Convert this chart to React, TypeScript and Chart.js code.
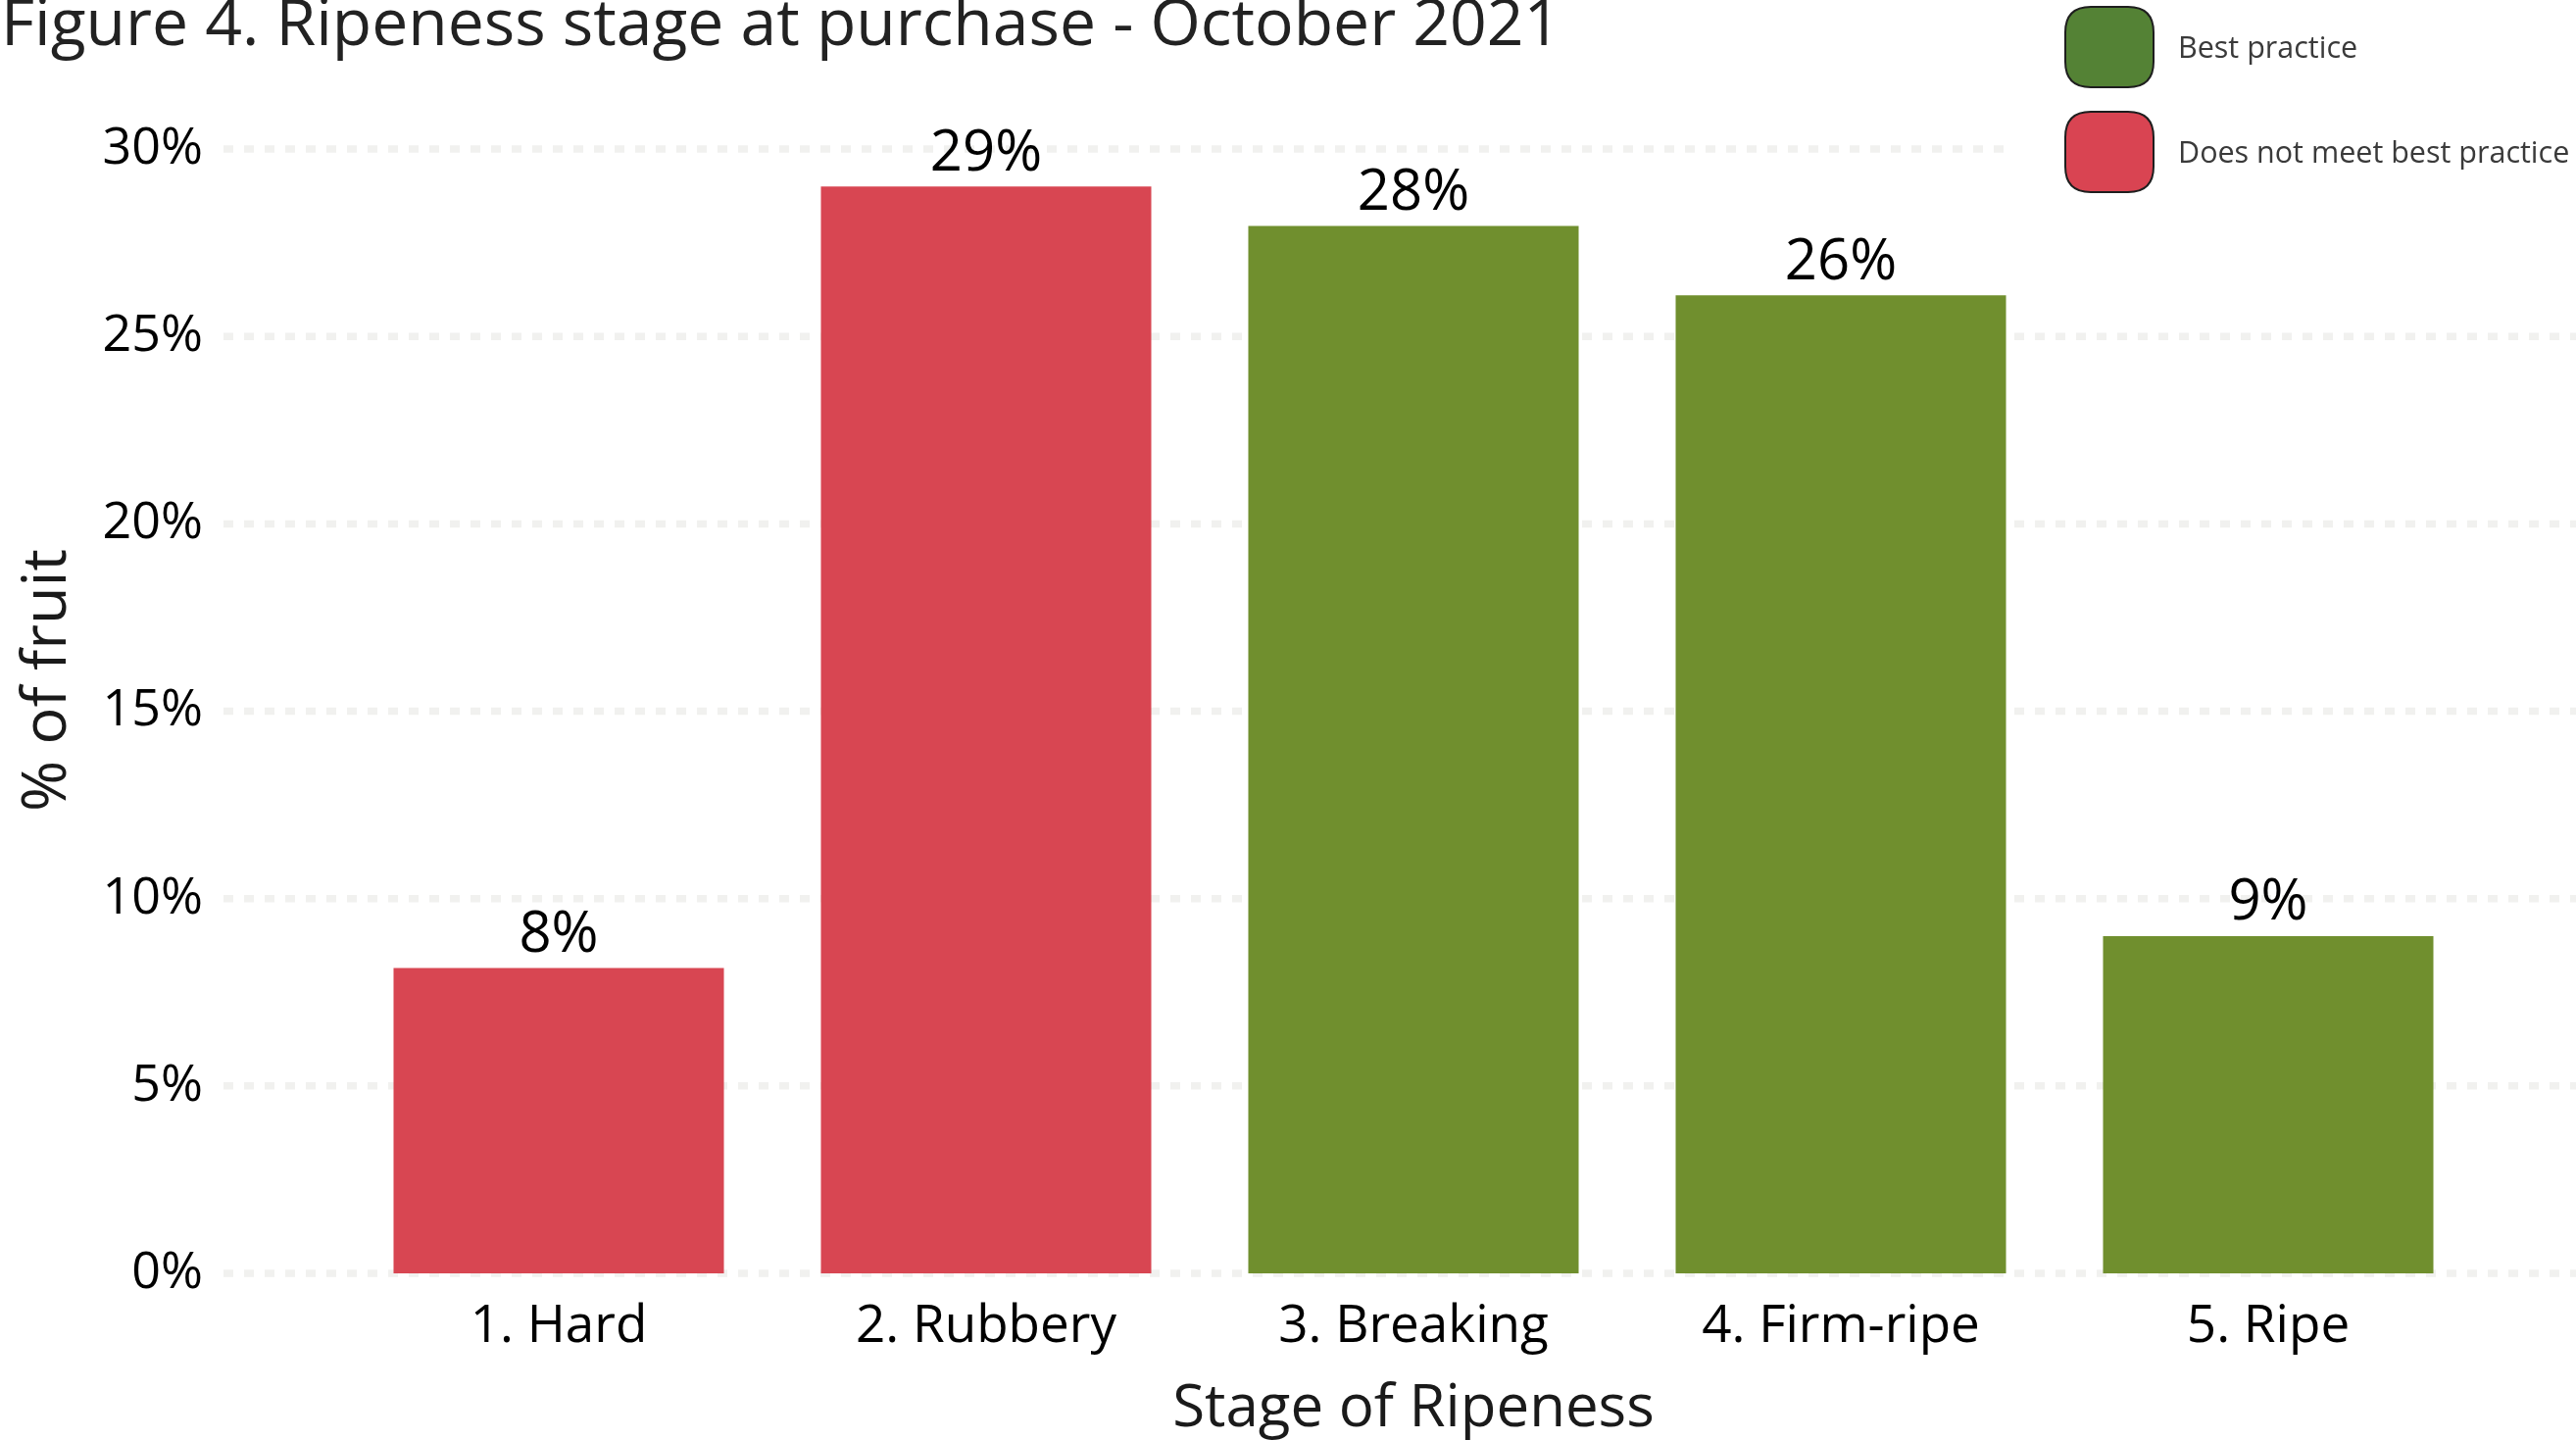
import React, { useEffect, useRef } from 'react';
import { Chart, registerables } from 'chart.js';

Chart.register(...registerables);

// ---------- data ----------
const categories = ['1. Hard', '2. Rubbery', '3. Breaking', '4. Firm-ripe', '5. Ripe'];
const percentValues = [8.15, 29.0, 27.95, 26.1, 9.0];
const practiceGroup = ['not', 'not', 'best', 'best', 'best'];
const yTickValues = [0, 5, 10, 15, 20, 25, 30];
const legendLabels = ['Best practice', 'Does not meet best practice'];
const chartTitle = 'Figure 4. Ripeness stage at purchase - October 2021';
const xAxisTitle = 'Stage of Ripeness';
const yAxisTitle = '% of fruit';

// ---------- style ----------
const FONT = "'Open Sans', 'Noto Sans', sans-serif";
const BAR_RED = '#D84652';
const BAR_GREEN = '#708F2E';
const LEGEND_GREEN = '#548235';
const LEGEND_RED = '#D94452';
const GRID_COLOR = '#f1f1ef';
const W = 2628;
const H = 1469;

const gridPlugin = {
  id: 'dashedGrid',
  beforeDatasetsDraw(chart: any) {
    const ys = chart.scales.y;
    const ctx = chart.ctx;
    ctx.save();
    ctx.strokeStyle = GRID_COLOR;
    ctx.lineWidth = 7.5;
    ctx.setLineDash([10, 11]);
    for (const t of ys.ticks) {
      const y = ys.getPixelForValue(t.value);
      ctx.beginPath();
      ctx.moveTo(228, y);
      ctx.lineTo(chart.width, y);
      ctx.stroke();
    }
    ctx.restore();
  },
};

const valueLabelPlugin = {
  id: 'valueLabels',
  afterDatasetsDraw(chart: any) {
    const ctx = chart.ctx;
    const meta = chart.getDatasetMeta(0);
    const data = chart.data.datasets[0].data as number[];
    ctx.save();
    ctx.font = `58px ${FONT}`;
    ctx.fillStyle = '#000';
    ctx.textAlign = 'center';
    ctx.textBaseline = 'alphabetic';
    meta.data.forEach((bar: any, i: number) => {
      ctx.fillText(`${Math.round(data[i])}%`, bar.x, bar.y - 16.5);
    });
    ctx.restore();
  },
};

function roundedRect(ctx: CanvasRenderingContext2D, x: number, y: number, w: number, h: number, r: number) {
  ctx.beginPath();
  ctx.moveTo(x + r, y);
  ctx.lineTo(x + w - r, y);
  ctx.quadraticCurveTo(x + w, y, x + w, y + r);
  ctx.lineTo(x + w, y + h - r);
  ctx.quadraticCurveTo(x + w, y + h, x + w - r, y + h);
  ctx.lineTo(x + r, y + h);
  ctx.quadraticCurveTo(x, y + h, x, y + h - r);
  ctx.lineTo(x, y + r);
  ctx.quadraticCurveTo(x, y, x + r, y);
  ctx.closePath();
}

const decorPlugin = {
  id: 'decor',
  afterDraw(chart: any) {
    const ctx = chart.ctx as CanvasRenderingContext2D;
    ctx.save();
    // title
    ctx.font = `66px ${FONT}`;
    ctx.fillStyle = '#222';
    ctx.textAlign = 'left';
    ctx.textBaseline = 'alphabetic';
    ctx.fillText(chartTitle, 1, 46);

    // legend
    ctx.fillStyle = '#fff';
    ctx.fillRect(2048, 0, chart.width - 2048, 212);
    const items = [
      { label: legendLabels[0], color: LEGEND_GREEN, y: 7 },
      { label: legendLabels[1], color: LEGEND_RED, y: 114 },
    ];
    for (const it of items) {
      roundedRect(ctx, 2107, it.y, 90, 82, 26);
      ctx.fillStyle = it.color;
      ctx.fill();
      ctx.lineWidth = 2;
      ctx.strokeStyle = '#1e1e1e';
      ctx.stroke();
      ctx.font = `30.5px ${FONT}`;
      ctx.fillStyle = '#3a3a3a';
      ctx.textBaseline = 'middle';
      ctx.fillText(it.label, 2222, it.y + 43);
    }
    ctx.restore();
  },
};

export default function App() {
  const canvasRef = useRef<HTMLCanvasElement | null>(null);

  useEffect(() => {
    document.body.style.margin = '0';
    document.body.style.overflow = 'hidden';
    const canvas = canvasRef.current;
    if (!canvas) return;
    const chart = new Chart(canvas, {
      type: 'bar',
      data: {
        labels: categories,
        datasets: [
          {
            data: percentValues,
            backgroundColor: practiceGroup.map((g) => (g === 'best' ? BAR_GREEN : BAR_RED)),
            borderWidth: 0,
            barPercentage: 0.773,
            categoryPercentage: 1,
          },
        ],
      },
      options: {
        responsive: false,
        animation: false,
        devicePixelRatio: 1,
        layout: { padding: { top: 89, right: 96, bottom: 0, left: 0 } },
        plugins: {
          legend: { display: false },
          title: { display: false },
          tooltip: { enabled: false },
        },
        scales: {
          x: {
            type: 'category',
            grid: { display: false, drawTicks: false },
            border: { display: false },
            ticks: {
              color: '#000',
              padding: 23,
              font: { family: FONT, size: 53, lineHeight: 1.2 },
              maxRotation: 0,
              autoSkip: false,
            },
            title: {
              display: true,
              text: xAxisTitle,
              color: '#1a1a1a',
              font: { family: FONT, size: 60, lineHeight: 1.2 },
              padding: { top: 0, bottom: -5 },
            },
            afterFit: (s: any) => {
              s.height = 170;
            },
          },
          y: {
            type: 'linear',
            min: 0,
            max: 31.65,
            grid: { display: false, drawTicks: true, tickLength: 140, tickColor: 'rgba(0,0,0,0)' },
            border: { display: false },
            afterBuildTicks: (s: any) => {
              s.ticks = yTickValues.map((v) => ({ value: v }));
            },
            ticks: {
              color: '#000',
              padding: 5,
              font: { family: FONT, size: 52, lineHeight: 1.2 },
              callback: (v: any) => `${v}%`,
            },
            title: {
              display: true,
              text: yAxisTitle,
              color: '#1a1a1a',
              font: { family: FONT, size: 63, lineHeight: 1.2 },
              padding: { top: 11, bottom: 0 },
            },
            afterFit: (s: any) => {
              s.width = 352;
            },
          },
        },
      },
      plugins: [gridPlugin, valueLabelPlugin, decorPlugin],
    });
    return () => chart.destroy();
  }, []);

  return (
    <div style={{ position: 'absolute', left: 0, top: 0, width: W, height: H, background: '#fff' }}>
      <canvas ref={canvasRef} width={W} height={H} style={{ width: W, height: H, display: 'block' }} />
    </div>
  );
}
